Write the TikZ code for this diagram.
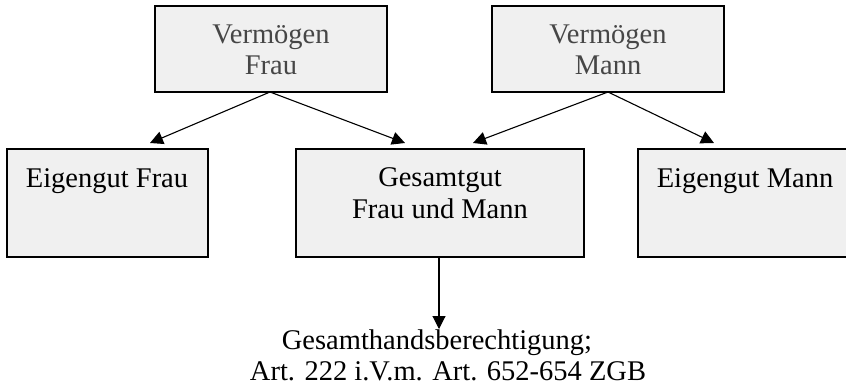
\documentclass[tikz,border=0pt]{standalone}
\usepackage{fontspec}
\setmainfont{Liberation Serif}
\usetikzlibrary{arrows.meta}
\definecolor{boxfill}{RGB}{240,240,240}
\definecolor{toptext}{RGB}{70,70,70}
\begin{document}
\begin{tikzpicture}[x=1pt,y=-1pt,
  box/.style={draw=black,line width=1.5pt,fill=boxfill},
  lbl/.style={anchor=base,inner sep=0pt,font=\fontsize{28.5}{32}\selectfont},
  conn/.style={line width=1.1pt,-{Triangle[length=13pt,width=13pt]}}]
\useasboundingbox (0,0) rectangle (846,388);
\begin{scope}
\clip (0,0) rectangle (846,388);
% boxes
\draw[box] (155,6) rectangle (387,92);
\draw[box] (492,6) rectangle (724,92);
\draw[box] (7,149) rectangle (208,257);
\draw[box] (296,149) rectangle (584,257);
\draw[box] (638,149) rectangle (852,257);
\end{scope}
% named anchor coordinates
\coordinate (vfb) at (270,92);
\coordinate (vmb) at (608,92);
\coordinate (eft) at (150,143);
\coordinate (gl) at (405,143);
\coordinate (gr) at (473,143);
\coordinate (emt) at (714,143);
\coordinate (gb) at (439,257);
\coordinate (res) at (439,329);
% texts
\node[lbl,text=toptext] (vf1) at (271,43) {Vermögen};
\node[lbl,text=toptext] (vf2) at (271,74) {Frau};
\node[lbl,text=toptext] (vm1) at (608,43) {Vermögen};
\node[lbl,text=toptext] (vm2) at (608,74) {Mann};
\node[lbl] (ef) at (107,187) {Eigengut Frau};
\node[lbl] (g1) at (440,186) {Gesamtgut};
\node[lbl] (g2) at (440,218) {Frau und Mann};
\node[lbl] (em) at (745,187) {Eigengut Mann};
\node[lbl] (r1) at (437,349) {Gesamthandsberechtigung;};
\node[lbl] (r2) at (448,380) {Art. 222 i.V.m. Art. 652-654 ZGB};
% connectors
\draw[conn] (vfb) -- (eft);
\draw[conn] (vfb) -- (gl);
\draw[conn] (vmb) -- (gr);
\draw[conn] (vmb) -- (emt);
\draw[conn] (gb) -- (res);
\end{tikzpicture}
\end{document}
